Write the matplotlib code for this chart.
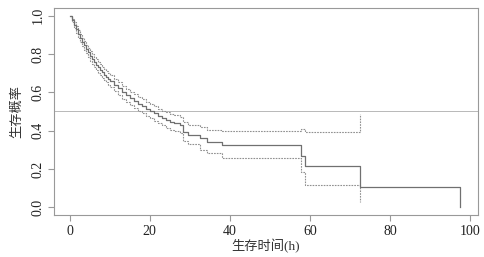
import matplotlib
matplotlib.use("Agg")
import matplotlib.pyplot as plt

# Kaplan-Meier estimate (time in h, survival probability)
times = [0, 0.5, 1, 1.5, 2, 2.5, 3, 3.5, 4, 4.5, 5, 5.5, 6, 6.5, 7, 7.5, 8, 8.5, 9, 9.5,
         10, 11, 12, 13, 14, 15, 16, 17, 18, 19, 20, 21, 22, 23, 24, 25, 26, 27.5,
         28.3, 29.5, 32.5, 34.3, 37.9, 57.7, 58.7, 72.5]
surv = [1.0, 0.975, 0.95, 0.928, 0.905, 0.885, 0.865, 0.845, 0.826, 0.808, 0.79, 0.775,
        0.76, 0.745, 0.73, 0.717, 0.705, 0.693, 0.682, 0.671, 0.66, 0.64, 0.62, 0.60,
        0.585, 0.57, 0.555, 0.54, 0.527, 0.515, 0.503, 0.49, 0.478, 0.466, 0.455, 0.445,
        0.44, 0.43, 0.395, 0.38, 0.36, 0.34, 0.324, 0.27, 0.215, 0.107]
upper = [1.0, 0.985, 0.965, 0.945, 0.924, 0.905, 0.886, 0.867, 0.849, 0.832, 0.815, 0.80,
         0.786, 0.772, 0.758, 0.746, 0.734, 0.723, 0.712, 0.702, 0.692, 0.672, 0.653, 0.634,
         0.619, 0.604, 0.59, 0.576, 0.563, 0.551, 0.54, 0.527, 0.515, 0.504, 0.495, 0.488,
         0.482, 0.472, 0.445, 0.432, 0.418, 0.405, 0.396, 0.408, 0.394, 0.486]
lower = [1.0, 0.965, 0.935, 0.91, 0.886, 0.865, 0.844, 0.823, 0.803, 0.784, 0.765, 0.75,
         0.734, 0.718, 0.702, 0.688, 0.676, 0.663, 0.652, 0.64, 0.628, 0.608, 0.587, 0.566,
         0.551, 0.536, 0.52, 0.504, 0.491, 0.479, 0.466, 0.453, 0.441, 0.428, 0.415, 0.404,
         0.398, 0.388, 0.345, 0.33, 0.30, 0.283, 0.26, 0.185, 0.116, 0.026]
last_time = 97.4
last_surv = 0.0

x_ticks = [0, 20, 40, 60, 80, 100]
y_ticks = [0.0, 0.2, 0.4, 0.6, 0.8, 1.0]
x_label = "生存时间(h)"
y_label = "生存概率"

fonts = ["Liberation Serif", "Noto Sans CJK SC"]
plt.rcParams["font.family"] = fonts

fig = plt.figure(figsize=(4.85, 2.57), dpi=100)
ax = fig.add_axes([0.1113, 0.1634, 0.8743, 0.8055])

ax.axhline(0.5, color="#b8b8b8", lw=0.7, zorder=1)
ax.step(times + [last_time], surv + [last_surv], where="post", color="#707070", lw=0.9, zorder=3)
ax.step(times, upper, where="post", color="#909090", lw=0.8, ls=(0, (1.5, 1)), zorder=2)
ax.step(times, lower, where="post", color="#909090", lw=0.8, ls=(0, (1.5, 1)), zorder=2)

ax.set_xlim(-3.9, 101.9)
ax.set_ylim(-0.04, 1.04)
ax.set_xticks(x_ticks)
ax.set_xticklabels([str(v) for v in x_ticks])
ax.set_yticks(y_ticks)
ax.set_yticklabels([f"{v:.1f}" for v in y_ticks], rotation=90, va="center")

for s in ax.spines.values():
    s.set_color("#999999")
    s.set_linewidth(0.8)
ax.tick_params(axis="both", colors="#999999", labelcolor="#222222", length=4, width=0.8,
               labelsize=10, pad=3)

ax.set_xlabel(x_label, fontsize=9.5, color="#333333", labelpad=1)
ax.set_ylabel(y_label, fontsize=9.5, color="#333333", labelpad=6)

fig.savefig("out.png", dpi=100, facecolor="white")
